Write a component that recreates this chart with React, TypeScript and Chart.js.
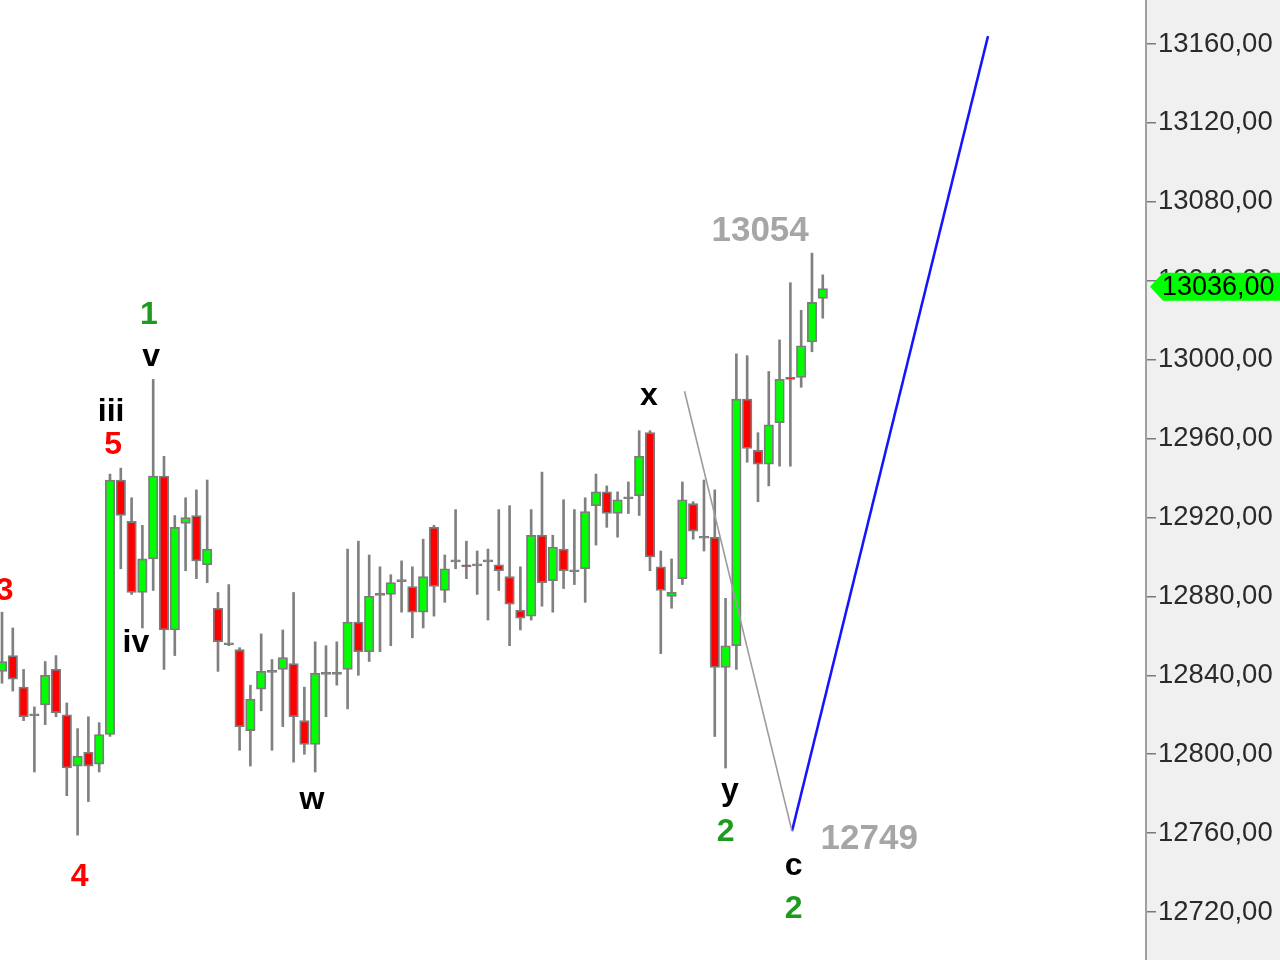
import React, { useEffect, useRef } from "react";
import { Chart, registerables } from "chart.js";

Chart.register(...registerables);

// ---- candle data (index 0..76) ----
const opens = [
  12842, 12850, 12834, 12820, 12825, 12843, 12820, 12794, 12801, 12795,
  12810, 12939, 12918, 12882, 12899, 12941, 12863, 12917, 12921, 12896,
  12874, 12856, 12853, 12812, 12833, 12842, 12843, 12846, 12817, 12805,
  12841, 12841, 12843, 12867, 12852, 12881, 12881, 12888, 12885, 12872,
  12915, 12883, 12898, 12896, 12896, 12898, 12896, 12890, 12873, 12870,
  12911, 12888, 12904, 12893, 12894, 12926, 12933, 12922, 12930, 12931,
  12963, 12895, 12880, 12889, 12927, 12910, 12910, 12844, 12855, 12980,
  12954, 12947, 12968, 12991, 12991, 13009, 13031,
];
const highs = [
  12872, 12864, 12843, 12824, 12847, 12850, 12826, 12813, 12819, 12816,
  12942, 12945, 12930, 12916, 12990, 12951, 12921, 12930, 12934, 12939,
  12882, 12886, 12854, 12835, 12861, 12848, 12863, 12882, 12834, 12857,
  12855, 12857, 12904, 12908, 12901, 12895, 12891, 12898, 12895, 12909,
  12916, 12901, 12924, 12908, 12903, 12904, 12924, 12926, 12895, 12924,
  12943, 12911, 12929, 12924, 12930, 12942, 12936, 12933, 12938, 12964,
  12964, 12903, 12899, 12938, 12928, 12939, 12934, 12879, 13003, 13002,
  12963, 12994, 13010, 13039, 13025, 13054, 13043,
];
const lows = [
  12836, 12832, 12817, 12791, 12815, 12819, 12779, 12759, 12776, 12791,
  12809, 12894, 12881, 12864, 12883, 12843, 12850, 12893, 12889, 12887,
  12842, 12855, 12802, 12794, 12822, 12802, 12814, 12796, 12800, 12791,
  12819, 12835, 12823, 12840, 12847, 12852, 12855, 12872, 12859, 12864,
  12870, 12877, 12894, 12889, 12881, 12868, 12883, 12855, 12863, 12868,
  12875, 12872, 12884, 12886, 12877, 12906, 12915, 12910, 12922, 12921,
  12893, 12851, 12874, 12886, 12909, 12903, 12809, 12793, 12843, 12948,
  12928, 12936, 12946, 12946, 12986, 13004, 13021,
];
const closes = [
  12847, 12838, 12819, 12820, 12840, 12821, 12793, 12799, 12794, 12810,
  12939, 12921, 12882, 12899, 12941, 12863, 12915, 12920, 12898, 12904,
  12857, 12856, 12814, 12828, 12842, 12842, 12849, 12819, 12805, 12841,
  12841, 12841, 12867, 12852, 12880, 12881, 12887, 12888, 12872, 12890,
  12885, 12894, 12898, 12895, 12896, 12898, 12893, 12876, 12869, 12911,
  12887, 12905, 12893, 12893, 12923, 12933, 12922, 12929, 12930, 12951,
  12900, 12883, 12882, 12929, 12913, 12910, 12844, 12855, 12980, 12955,
  12947, 12967, 12990, 12990, 13007, 13029, 13036,
];

// ---- price axis ----
const yTicks = [12720, 12760, 12800, 12840, 12880, 12920, 12960, 13000, 13040, 13080, 13120, 13160];
const yMin = 12695.7;
const yMax = 13182.3;
const xMin = -0.185;
const xMax = 105.93;
const lastPrice = 13036;

// ---- wave labels ----
const waveText = ["3", "4", "5", "iii", "iv", "v", "1", "w", "x", "y", "2", "c", "2"];
const waveIdx = [0.25, 7.2, 10.3, 10.1, 12.4, 13.8, 13.6, 28.7, 59.9, 67.4, 67.0, 73.3, 73.3];
const wavePrice = [12878, 12733, 12952, 12969, 12852, 12997, 13018, 12772, 12977, 12777, 12756, 12739, 12717];
const waveColor = ["#ff0000", "#ff0000", "#ff0000", "#000000", "#000000", "#000000", "#1e9a1e", "#000000", "#000000", "#000000", "#1e9a1e", "#000000", "#1e9a1e"];

// ---- level notes ----
const noteText = ["13054", "12749"];
const noteIdx = [70.2, 80.3];
const notePrice = [13060, 12752];

// ---- projection lines ----
const grayLineIdx = [63.2, 73.15];
const grayLinePrice = [12984, 12761];
const blueLineIdx = [73.15, 91.3];
const blueLinePrice = [12761, 13164];

const GREEN = "#00ff00";
const RED = "#ff0000";
const GRAY = "#808080";

const fmt = (v: number) => v.toFixed(2).replace(".", ",");

export default function App() {
  const canvasRef = useRef<HTMLCanvasElement | null>(null);

  useEffect(() => {
    document.body.style.margin = "0";
    const canvas = canvasRef.current;
    if (!canvas) return;

    const idx = opens.map((_, i) => i);
    const bodyData = idx.map((i) => {
      const o = opens[i];
      const c = closes[i];
      const lo = Math.min(o, c);
      const hi = Math.max(o, c);
      if (hi - lo < 0.9) return { x: i, y: [c - 0.5, c + 0.5] };
      return { x: i, y: [lo, hi] };
    });
    const bodyColors = idx.map((i) =>
      closes[i] > opens[i] ? GREEN : closes[i] < opens[i] ? RED : GRAY
    );
    const wickData = idx.map((i) => ({ x: i, y: [lows[i], highs[i]] }));

    const bgPlugin = {
      id: "axisBg",
      beforeDraw(chart: any) {
        const { ctx, chartArea, width, height } = chart;
        ctx.save();
        ctx.fillStyle = "#ffffff";
        ctx.fillRect(0, 0, width, height);
        ctx.fillStyle = "#f0f0f0";
        ctx.fillRect(chartArea.right, 0, width - chartArea.right, height);
        ctx.restore();
      },
    };

    const annotPlugin = {
      id: "annot",
      afterDatasetsDraw(chart: any) {
        const { ctx } = chart;
        const xs = chart.scales.x;
        const ys = chart.scales.y;
        ctx.save();
        ctx.textAlign = "center";
        ctx.textBaseline = "alphabetic";
        ctx.font = 'bold 32px "Liberation Sans", Arial, sans-serif';
        waveText.forEach((t, k) => {
          ctx.fillStyle = waveColor[k];
          ctx.fillText(t, xs.getPixelForValue(waveIdx[k]), ys.getPixelForValue(wavePrice[k]));
        });
        ctx.font = 'bold 35px "Liberation Sans", Arial, sans-serif';
        ctx.fillStyle = "#a6a6a6";
        noteText.forEach((t, k) => {
          ctx.fillText(t, xs.getPixelForValue(noteIdx[k]), ys.getPixelForValue(notePrice[k]));
        });
        ctx.restore();
      },
    };

    const markerPlugin = {
      id: "lastMarker",
      afterDraw(chart: any) {
        const { ctx, chartArea, width } = chart;
        const ys = chart.scales.y;
        const yp = ys.getPixelForValue(lastPrice) - 2;
        const left = chartArea.right + 4;
        ctx.save();
        ctx.beginPath();
        ctx.moveTo(left, yp);
        ctx.lineTo(left + 13, yp - 14);
        ctx.lineTo(width, yp - 14);
        ctx.lineTo(width, yp + 14);
        ctx.lineTo(left + 13, yp + 14);
        ctx.closePath();
        ctx.fillStyle = "#00ff00";
        ctx.fill();
        ctx.fillStyle = "#000000";
        ctx.font = '27px "Liberation Sans", Arial, sans-serif';
        ctx.textAlign = "left";
        ctx.textBaseline = "middle";
        ctx.fillText(fmt(lastPrice), left + 12, yp + 1);
        ctx.restore();
      },
    };

    const chart = new Chart(canvas, {
      type: "bar",
      data: {
        datasets: [
          {
            type: "line",
            data: grayLineIdx.map((x, k) => ({ x, y: grayLinePrice[k] })),
            borderColor: "#9c9c9c",
            borderWidth: 1.6,
            pointRadius: 0,
            order: -2,
          } as any,
          {
            type: "line",
            data: blueLineIdx.map((x, k) => ({ x, y: blueLinePrice[k] })),
            borderColor: "#1414ff",
            borderWidth: 2.5,
            pointRadius: 0,
            order: -1,
          } as any,
          {
            type: "bar",
            data: bodyData,
            backgroundColor: bodyColors,
            borderColor: "#7c7c7c",
            borderWidth: 1.8,
            borderSkipped: false,
            barThickness: 9.5,
            grouped: false,
            order: 0,
          } as any,
          {
            type: "bar",
            data: wickData,
            backgroundColor: GRAY,
            borderWidth: 0,
            barThickness: 2,
            grouped: false,
            order: 1,
          } as any,
        ],
      },
      options: {
        animation: false,
        responsive: true,
        maintainAspectRatio: false,
        layout: { padding: 0 },
        plugins: { legend: { display: false }, tooltip: { enabled: false } },
        scales: {
          x: {
            type: "linear",
            min: xMin,
            max: xMax,
            display: false,
            offset: false,
            bounds: "data",
          },
          y: {
            type: "linear",
            position: "right",
            min: yMin,
            max: yMax,
            bounds: "data",
            beginAtZero: false,
            afterBuildTicks: (s: any) => {
              s.ticks = yTicks.map((v) => ({ value: v }));
            },
            afterFit: (s: any) => {
              s.width = 134;
              s.paddingTop = 0;
              s.paddingBottom = 0;
            },
            grid: {
              drawOnChartArea: false,
              drawTicks: true,
              tickLength: 10,
              color: "#7a7a7a",
              lineWidth: 1.5,
            },
            border: { display: true, color: "#a0a0a0", width: 2 },
            ticks: {
              padding: 2,
              color: "#2a2a2a",
              font: { family: '"Liberation Sans", Arial, sans-serif', size: 27.5 },
              callback: (v: any) => fmt(Number(v)),
              autoSkip: false,
            },
          },
        },
      } as any,
      plugins: [bgPlugin, annotPlugin, markerPlugin],
    });

    return () => chart.destroy();
  }, []);

  return (
    <div style={{ width: 1280, height: 960, position: "relative" }}>
      <canvas ref={canvasRef} />
    </div>
  );
}
